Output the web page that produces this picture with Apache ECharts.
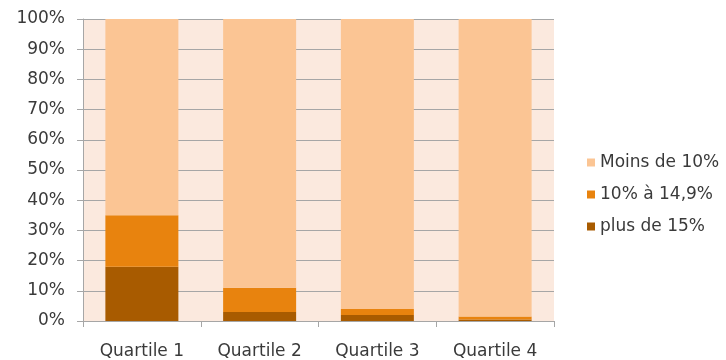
<!DOCTYPE html>
<html>
<head>
<meta charset="utf-8">
<script src="https://cdn.jsdelivr.net/npm/echarts@6/dist/echarts.min.js"></script>
<style>
  html, body { margin: 0; padding: 0; background: #fff; }
  #chart { width: 726px; height: 360px; }
</style>
</head>
<body>
<div id="chart"></div>
<script>
// categories and series values (percent)
const categories = ['Quartile 1', 'Quartile 2', 'Quartile 3', 'Quartile 4'];
const plusDe15 = [18, 3, 2, 0.5];
const de10a149 = [17, 8, 2, 1];
const moinsDe10 = [65, 89, 96, 98.5];

const chart = echarts.init(document.getElementById('chart'));
const font = '"DejaVu Sans", sans-serif';

const option = {
  animation: false,
  textStyle: { fontFamily: font },
  grid: {
    left: 83,
    right: 172,
    top: 19,
    bottom: 39,
    show: true,
    backgroundColor: '#FBE9DE',
    borderWidth: 0,
  },
  legend: {
    orient: 'vertical',
    left: 582,
    top: 149,
    itemWidth: 8,
    itemHeight: 8,
    itemGap: 15,
    icon: 'rect',
    textStyle: { fontSize: 17, color: '#3a3a3a', fontFamily: font },
    data: ['Moins de 10%', '10% à 14,9%', 'plus de 15%'],
  },
  xAxis: {
    type: 'category',
    data: categories,
    axisLine: { lineStyle: { color: '#A6A6A6' } },
    axisTick: { show: true, length: 6, lineStyle: { color: '#A6A6A6' } },
    axisLabel: { color: '#3a3a3a', fontSize: 17, margin: 22 },
  },
  yAxis: {
    type: 'value',
    min: 0,
    max: 100,
    interval: 10,
    axisLine: { show: true, lineStyle: { color: '#A6A6A6' } },
    axisTick: { show: true, length: 6, lineStyle: { color: '#A6A6A6' } },
    splitLine: { show: true, lineStyle: { color: '#A6A6A6' } },
    axisLabel: { color: '#3a3a3a', fontSize: 17, margin: 18, formatter: '{value}%' },
  },
  series: [
    {
      name: 'plus de 15%',
      type: 'bar',
      stack: 'total',
      barWidth: '62%',
      itemStyle: { color: '#A85B00' },
      data: plusDe15,
    },
    {
      name: '10% à 14,9%',
      type: 'bar',
      stack: 'total',
      itemStyle: { color: '#E8830E' },
      data: de10a149,
    },
    {
      name: 'Moins de 10%',
      type: 'bar',
      stack: 'total',
      itemStyle: { color: '#FBC594' },
      data: moinsDe10,
    },
  ],
};

chart.setOption(option);
</script>
</body>
</html>
